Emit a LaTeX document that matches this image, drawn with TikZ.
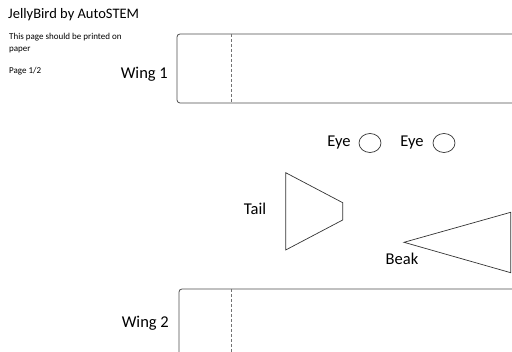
\documentclass[tikz,border=0pt]{standalone}
\usepackage{fontspec}
\setmainfont{Carlito}
\usepackage{tikz}
\usetikzlibrary{positioning}

\tikzset{
	part/.style={draw=black!80, line width=0.7pt},
	wing/.style={draw=black!70, line width=0.8pt, rounded corners=3pt},
	fold/.style={draw=black!55, dashed, dash pattern=on 3pt off 2pt, line width=0.5pt},
	lbl/.style={inner sep=0pt, font=\fontsize{16.5}{19}\selectfont},
	small/.style={anchor=west, inner sep=0pt, font=\fontsize{9}{11}\selectfont}
}

\begin{document}
\begin{tikzpicture}[x=1pt, y=-1pt]
		\useasboundingbox (0, 0) rectangle (512, 352);
		
		\node[anchor=west, inner sep=0pt, font=\fontsize{14.5}{17}\selectfont] (title) at (8, 15) {JellyBird by AutoSTEM};
		\node[small] (note1) at (9, 37) {This page should be printed on};
		\node[small] (note2) at (9, 50) {paper};
		\node[small] (page) at (9, 71) {Page 1/2};
		
		\node[lbl, anchor=east] (wing1) at (168, 74) {Wing 1};
		\node[lbl, anchor=east] (wing2) at (169, 323) {Wing 2};
		\node[lbl] (tail) at (255, 209) {Tail};
		\node[lbl] (beak) at (402, 259) {Beak};
		\node[lbl] (eye1) at (339, 143) {Eye};
		\node[lbl] (eye2) at (412, 143) {Eye};
		
		\draw[wing] (530, 34) -- (177, 34) -- (177, 103) -- (530, 103);
		\draw[fold] (231.7, 34) -- (231.7, 103);
		
		\draw[wing] (530, 289) -- (179, 289) -- (179, 370);
		\draw[fold] (231.7, 289) -- (231.7, 352);
		
		\draw[part] (370, 143) ellipse (11 and 9.5);
		\draw[part] (444, 143) ellipse (11 and 9.5);
		
		\draw[part] (285.7, 172.7) -- (342.7, 202.7) -- (342.7, 220) -- (285.7, 250) -- cycle;
		\draw[part] (404, 242.3) -- (510.7, 212.3) -- (510.7, 272.7) -- cycle;
		
	\end{tikzpicture}
\end{document}
